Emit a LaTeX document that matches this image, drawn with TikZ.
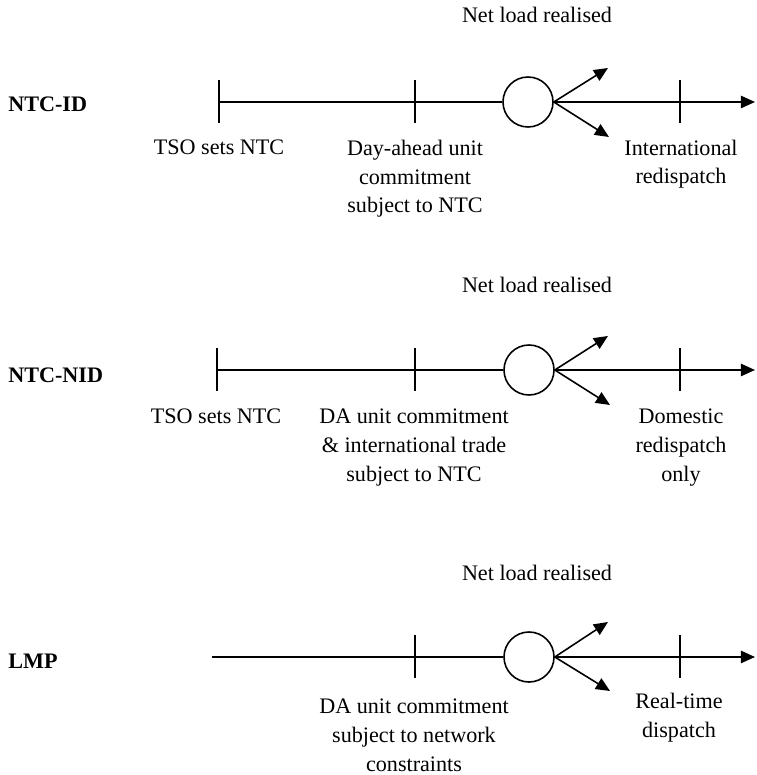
\documentclass[tikz,border=0pt]{standalone}
\usepackage{fontspec}
\setmainfont{Liberation Serif}
\usetikzlibrary{arrows.meta}

\begin{document}
\begin{tikzpicture}[scale=0.2]
\tikzstyle{every node}+=[inner sep=0pt, font=\fontsize{12.6}{16.5}\selectfont]
\tikzstyle{event}=[draw, circle, line width=0.9pt, minimum size=1cm]
\tikzstyle{txt}=[align=center, anchor=base]
\tikzstyle{scheme}=[font=\fontsize{12.6}{16.5}\selectfont\bfseries, anchor=base west]
\tikzstyle{tl}=[line width=0.9pt]
\tikzstyle{go}=[tl, -{Triangle[length=8pt,width=7pt]}]
\useasboundingbox (0,0) rectangle (75.6,-77.5);
% NTC-ID
\coordinate (tso1) at (21.9,-10.2);
\coordinate (da1) at (41.5,-10.2);
\node [event] (ev1) at (52.8,-10.2) {};
\coordinate (rd1) at (68,-10.2);
\coordinate (end1) at (75.5,-10.2);
\coordinate (up1) at (60.8,-6.8);
\coordinate (dn1) at (60.9,-13.7);
\draw [tl] (tso1) -- (ev1);
\draw [go] (ev1) -- (end1);
\draw [go] (ev1.east) -- (up1);
\draw [go] (ev1.east) -- (dn1);
\draw [tl] (tso1) ++(0,2.15) -- ++(0,-4.3);
\draw [tl] (da1) ++(0,2.15) -- ++(0,-4.3);
\draw [tl] (rd1) ++(0,2.15) -- ++(0,-4.3);
\node [scheme] (ntcid) at (0.8,-11.2) {NTC-ID};
\node [txt] (nl1) at (53.7,-2.3) {Net load realised};
\node [txt] (tsotxt1) at (21.9,-15.5) {TSO sets NTC};
\node [txt] (datxt1) at (41.5,-21.3) {Day-ahead unit\\commitment\\subject to NTC};
\node [txt] (rdtxt1) at (68.1,-18.4) {International\\redispatch};
% NTC-NID
\coordinate (tso2) at (21.7,-37);
\coordinate (da2) at (41.5,-37);
\node [event] (ev2) at (52.9,-37) {};
\coordinate (rd2) at (68,-37);
\coordinate (end2) at (75.5,-37);
\coordinate (up2) at (60.8,-33.6);
\coordinate (dn2) at (61,-40.5);
\draw [tl] (tso2) -- (ev2);
\draw [go] (ev2) -- (end2);
\draw [go] (ev2.east) -- (up2);
\draw [go] (ev2.east) -- (dn2);
\draw [tl] (tso2) ++(0,2.15) -- ++(0,-4.3);
\draw [tl] (da2) ++(0,2.15) -- ++(0,-4.3);
\draw [tl] (rd2) ++(0,2.15) -- ++(0,-4.3);
\node [scheme] (ntcnid) at (0.8,-38.2) {NTC-NID};
\node [txt] (nl2) at (53.7,-29.2) {Net load realised};
\node [txt] (tsotxt2) at (21.6,-42.3) {TSO sets NTC};
\node [txt] (datxt2) at (41.4,-48.1) {DA unit commitment\\\& international trade\\subject to NTC};
\node [txt] (rdtxt2) at (68.1,-48.1) {Domestic\\redispatch\\only};
% LMP
\coordinate (start3) at (21.2,-65.7);
\coordinate (da3) at (41.5,-65.7);
\node [event] (ev3) at (52.9,-65.7) {};
\coordinate (rt3) at (68,-65.7);
\coordinate (end3) at (75.5,-65.7);
\coordinate (up3) at (60.8,-62.2);
\coordinate (dn3) at (61,-69.1);
\draw [tl] (start3) -- (ev3);
\draw [go] (ev3) -- (end3);
\draw [go] (ev3.east) -- (up3);
\draw [go] (ev3.east) -- (dn3);
\draw [tl] (da3) ++(0,2.15) -- ++(0,-4.3);
\draw [tl] (rt3) ++(0,2.15) -- ++(0,-4.3);
\node [scheme] (lmp) at (0.8,-66.8) {LMP};
\node [txt] (nl3) at (53.7,-58) {Net load realised};
\node [txt] (datxt3) at (41.4,-77.1) {DA unit commitment\\subject to network\\constraints};
\node [txt] (rttxt3) at (67.9,-73.7) {Real-time\\dispatch};
\end{tikzpicture}
\end{document}
